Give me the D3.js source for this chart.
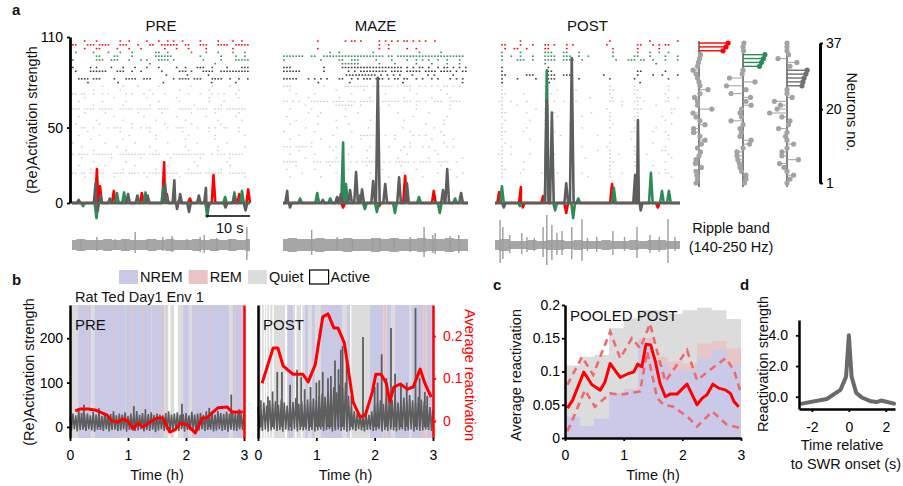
<!DOCTYPE html>
<html>
<head>
<meta charset="utf-8">
<script src="https://cdn.jsdelivr.net/npm/d3@7"></script>
<style>
body { margin: 0; background: #fff; }
svg text { font-family: "Liberation Sans", Arial, sans-serif; }
</style>
</head>
<body>
<svg id="fig" width="903" height="486"></svg>
<script>
// ---------- panel a : example windows (time in s, strength) ----------
const aWindowNames = ["PRE", "MAZE", "POST"];
const aStrengthTicks = [0, 50, 110];

const preRed = [[5.6, 22.5], [6.3, 11], [9.4, 8], [15.7, 6.6], [20.7, 27], [21.3, 6], [26.5, 3], [31.8, 18.5], [37.6, 6], [39.6, 9]];
const preGreen = [[2.5, -2], [5.5, -10], [10.1, 6.6], [11.7, 7], [16.5, 7], [20.5, 10], [21.3, 4], [24.2, 3], [30.4, -9], [34.4, 4], [36.5, 7], [38.2, 8]];
const preGray = [[1.5, 2], [5.3, 13], [5.8, -5], [6.4, 5], [8.5, 3], [12.6, 6], [14.7, 5], [17, 5], [20.9, 13], [23, 15], [23.6, -4], [24.3, 6], [26.3, -6], [28.5, 5], [30.1, 10], [30.6, -3], [34.5, -3], [36.5, 4], [39, -5]];

const mazeRed = [[13, -3], [26.4, 18], [32.6, 8], [20.8, -2]];
const mazeGreen = [[3.7, 3], [7.4, 6.6], [10.2, 3], [13, 40], [13.6, 12.6], [16.6, 5], [17.7, -4], [20.3, -6], [24.2, -6.6], [29.4, 4], [33.9, -6.6], [37.2, 3]];
const mazeGray = [[0.9, 8], [1.5, -3], [8.6, 2], [11.7, 4], [12.5, 6], [14.5, 8.6], [15.8, 20.5], [17.1, 9], [19.5, 14.6], [20.5, 83], [22.1, 12.6], [25.1, 17], [26.8, 13], [34.6, 8.6], [35.5, 22.5], [38.5, 6.6]];

const postRed = [[0.9, 7.3], [5.6, 10.6], [6, -3], [10.4, 4.6], [15.4, -6.6], [25.3, 12.6], [35.2, -3]];
const postGreen = [[1.5, 11], [5.4, -2], [11.2, 88], [13, -5], [16.9, -10], [18, 3], [25.7, 10], [33.7, 20], [36.1, 8], [37.6, 8]];
const postGray = [[1.9, -3], [11.2, 68], [12.3, 60], [15.4, 13], [16.6, 96], [30.3, 18.5], [30.9, 55], [31.5, -5]];

// raster, one string per neuron (37 at top), '#' = spike in that time bin
const preRaster = [
  "....#...#.......#..#.....#...#..#.#..#.....#.....#....#..#..",
  "##...###.####...###...#...##..######..##...###...####..#####",
  "....#...##.....#...#...#.......#...#...#.....#........#.....",
  ".#.....#....#...#...#.......##..#.......#....#...#....#...#.",
  "........##....##....#.......######.........#......#....#..#.",
  "#.......###..###...#...#.#...####.#.........#.....#....#####",
  "..........................#.....................#...........",
  "#.....#.#....#...#...#...#...#.....#..#...###..#....#....###",
  ".#....######...###..#..#......#.....###.#...####..##########",
  "...............................#......#......#.............",
  "..####.###....#...####..###.......#.####.###...####..#..#..#",
  ".....#.........#..............#...............#.......#....",
  "..........#......#....#......#..........#......#.....#......",
  ".......#........#.........#.........#.........#.........#...",
  "##.##..#..#.#.....#.#...#..#...#.......#...#...#.#.#...#....",
  "....#.........#..........#.........#..........#.........#...",
  "..#.......#.......#..........#......#.........#....#........",
  ".......#.........#........#..............#........#.........",
  "###.####.#####..#####.#####..####...#####.####..###.#######.",
  "....#......#..........#.......#.........#.......#.......#...",
  "..#...........#.........#..........#.........#.........#....",
  "........#........#..........#.........#..........#.......#..",
  ".#.......#..........#..........#........#.........#.........",
  "...##..#....#.###...#..#.##.....#..###....#...#.#..##...#...",
  ".....#..........#.........#..........#........#.........#...",
  "..#......#.........#........#..........#........#.........#.",
  "......#..........#..........#.........#.........#...........",
  "#..........#.........#..........#.........#.........#.......",
  "...#...........#..........#...........#..........#........#.",
  ".......#..........#.........#..........#.........#..........",
  "#.####.#######..#########.####..#.###########..#.###.#####..",
  "...#.........#.........#.........#.........#.........#......",
  ".......#..........#...........#..........#..........#.......",
  "..#........#.........#..........#.........#..........#......",
  "......#..........#..........#..........#..........#.........",
  "##.##.#####...####.####.#.#####.####..######.######..######.",
  "....#.........#..........#..........#..........#..........#."
];
const mazeRaster = [
  "...........#........#.##.#.....#.#.#.#.##.#.#.#..#..........",
  "...............................#..#.........................",
  "...........#...................#..#.....#..#................",
  "...............#..#..........#..............#......#........",
  "#######..##..####################.##.######################.",
  "#...........#.....##..###.....#....#....#..#.#.#..#..#...#..",
  "...................######......#....#......#....#....#...#..",
  "###..........#.....####################.#.#.##.#..#.##.#.#.#",
  "######.......#.......#.#.#########.####.#####.####.####.#.##",
  "....................##########.#.#.#.#...#....#.#.....#....",
  "#####...#.#.#.#...##..#.#.###.###.#.##.##..#.#..#.#...#.#.#.",
  "...........#.........#........#.......#..................#.",
  "###..........#......########.#######.#.###..#.#.#.#.##.#.#..",
  "..#..............#........#..............#.........#........",
  "....#.....#...........#..........#.........#.........#......",
  "........#.........#.........#..........#........#.....#.....",
  "##.#.#...######.####.###.#####..######.###.##.#..###..####..",
  ".......#.........######..#........#........#..........#.....",
  "..#......#..........#..........#...........#..........#.....",
  "........#...#...........#............#.........#............",
  ".#.........#........#.........#...........#..........#......",
  "....#............#..........#..........#............#.......",
  "..#........#.........#........#...............#.....#.......",
  ".......#.........#.........#..........#.........#..........",
  "#.........#...........#........#.........#.........#........",
  ".....#..........#........######..#..#.....#.#.#.....#.......",
  "..#.........#............#..........#...........#......#....",
  ".........#.........#..........#..........#..........#.......",
  "###.####.#.....#.#....#.....#.....#....#.#...#.#.....#.#....",
  ".....#..........#..........#..........#..........#..........",
  "..#.......#..........#.........#........#.........#.........",
  ".......#.........#.........#.........#.........#..........#.",
  "#####.....###.#####...#.#.#####..#.#.#####.#.####..####..#...",
  "....#..........#...........#..........#............#........",
  ".#........#..........#..........#..........#..........#.....",
  "......#..........#..........#..........#..........#.......#.",
  "..#.........#..........#..........#..........#..........#..."
];
const postRaster = [
  "........#............................#............#........#",
  "..##....#...#...##.#...#.#..........#.........##...#.#.##...",
  "...#..##..#.....##.....#..............#.......#......#......",
  "..#.....#.......###...##...#..........#.......#...#..#..#...",
  "..#..#..#...#...####..###..#..#.......#......##...#....#...#",
  "..#....###..#...####..####..#..........#...###.##..#...#...#",
  "................#...................................#.......",
  "..#..............#..........................................",
  "..#..............##...........................##.......#....",
  "..##......###....###..###..........#..........#....#..#....#",
  "..#....#.....#...###.......#.........#.......#..........#...",
  "..#..............#............................#............",
  "..#.............##...................#.......#..........#...",
  "..#..............#..#.....#..........##......##.........#...",
  "..##.....#......###..................#.......#.........#....",
  "..#...........................#......#.......##........#..#",
  ".##..#....#.....##.#..#...#..........##..#...##.#......##...",
  "..#....#.........#.......................#....#.....#.......",
  "..#..........#..##..................#........###.........##.",
  "..##......#.....#..#...........#.....#........#..........#..",
  "..#..............#..#.......#........#.......##.......#.....",
  "...#.......#....#....................#.......#.........#....",
  "..#.............##......#.............#.......#..........#..",
  "..#.......#......#..........#........#.......##.....#.......",
  "..##.....#......##.#........................##.....#...#....",
  "..#..............#...#...........#...#........#.........#...",
  "..#........#.....##.........................#.#.........#...",
  "...#.............#.......#...........#........#....#........",
  "..#..#...........#..........#.......#........#.........#....",
  "..#.............##...............#...#.......##.......##....",
  ".##..#.....#....#.##.....#...........#..#....##..#......#...",
  "..#..............#...........#.......#........#..........#..",
  "..#......#......##...................##......#.........#....",
  "..#..............#.......#...........#.......##....#........",
  "..##.....#.......#...................#........#........#....",
  "..#.....#......###..#.......#........#...#...##......#.##...",
  "..#..............#............#......#........#..........#.."
];

// ripple band: baseline amplitude every 2 s, and bursts [t, up, down]
const preRipBase = [5, 6, 5, 5, 6, 5, 6, 5, 5, 6, 5, 6, 5, 5, 6, 5, 6, 5, 6, 5, 6];
const mazeRipBase = [6, 7, 6, 6, 7, 6, 6, 7, 6, 6, 7, 6, 7, 6, 6, 7, 6, 6, 7, 6, 6];
const postRipBase = [5, 6, 4, 4, 5, 4, 5, 5, 4, 5, 4, 4, 5, 4, 4, 5, 4, 5, 5, 4, 4];
const preRipple = [[2, 6, 5], [5.6, 8, 6], [9.7, 6, 5], [12, 6, 6], [14.2, 13, 8], [16.9, 6, 5], [20.4, 8, 6], [22.5, 9, 7], [25.8, 6, 5], [28.8, 8, 7], [29.7, 10, 8], [32.5, 7, 6], [35.5, 6, 5], [39.3, 18, 15]];
const mazeRipple = [[6.2, 15, 10], [11.7, 8, 6], [15, 6, 5], [19.5, 6, 5], [21, 7, 6], [24, 6, 6], [27.5, 8, 7], [30.5, 18, 12], [32.4, 10, 8], [32.9, 12, 9], [36.1, 9, 7], [38, 10, 8]];
const postRipple = [[1.1, 25, 18], [1.7, 18, 14], [3.2, 10, 8], [5.8, 12, 9], [6.9, 8, 7], [8.5, 7, 6], [10.4, 18, 12], [11.2, 30, 20], [12.3, 20, 15], [13.4, 12, 10], [14.5, 14, 10], [16.6, 18, 14], [18.8, 26, 16], [20, 7, 6], [22, 8, 7], [25.5, 14, 10], [28, 8, 6], [30.7, 18, 13], [33.5, 10, 8], [35.5, 8, 7], [37.4, 26, 18], [38.9, 8, 6]];

// assembly weights, neuron 37 -> 1
const neuronTicks = [1, 20, 37];
const redWeights = [0.97, 0.9, 0.8, 0.05, 0.02, -0.02, -0.05, -0.2, -0.1, -0.05, 0, 0.03, 0.3, 0.03, -0.15, -0.05, -0.05, 0.43, -0.2, -0.1, 0.03, 0.2, -0.18, -0.18, 0.03, 0.2, 0.08, -0.05, 0.05, 0, -0.1, -0.12, 0.08, -0.1, -0.07, -0.05, -0.1];
const greenWeights = [0.03, 0, 0.02, 0.73, 0.68, 0.62, 0.55, 0, -0.03, -0.45, 0.4, -0.55, 0.1, -0.4, 0.25, 0.1, 0.27, -0.05, -0.1, -0.05, -0.4, 0, -0.1, -0.05, -0.1, 0.27, 0.22, 0, -0.2, -0.2, -0.17, -0.12, -0.1, -0.05, 0.1, 0.1, 0.05];
const darkWeights = [0, 0, 0, 0.05, -0.3, 0.33, 0.1, 0.67, 0.63, 0.57, 0.53, 0.5, 0, 0, 0.17, -0.42, -0.22, -0.33, -0.58, -0.17, 0.1, 0.05, -0.28, 0, -0.05, 0, 0.22, 0, -0.17, -0.17, 0.38, -0.25, -0.1, 0, 0.22, 0.1, 0];
const redMembers = [37, 36, 35];
const greenMembers = [34, 33, 32, 31];
const darkMembers = [30, 29, 28, 27, 26];

// ---------- panel b : whole sessions (time in h) ----------
const stateNames = [["NREM", "N"], ["REM", "R"], ["Quiet", "Q"], ["Active", "A"]];
const hourTicks = [0, 1, 2, 3];
const strengthTicksB = [0, 100, 200];
const preStates = [[0, 0.14, "Q"], [0.14, 0.37, "N"], [0.37, 0.42, "Q"], [0.42, 1.62, "N"], [1.62, 1.7, "Q"], [1.7, 1.73, "A"], [1.73, 1.8, "Q"], [1.8, 1.86, "A"], [1.86, 1.95, "Q"], [1.95, 2.05, "N"], [2.05, 2.1, "Q"], [2.1, 2.75, "N"], [2.75, 2.8, "Q"], [2.8, 3, "N"],
  [0.3, 0.315, "R"], [0.75, 0.765, "R"], [1.06, 1.08, "R"], [1.26, 1.275, "R"], [1.55, 1.57, "R"], [1.66, 1.675, "R"], [2.15, 2.165, "R"], [2.39, 2.405, "R"], [2.84, 2.86, "R"], [0.95, 0.96, "Q"], [1.4, 1.41, "Q"]];
const postStates = [[0, 0.05, "Q"], [0.05, 0.07, "A"], [0.07, 0.1, "Q"], [0.1, 0.12, "A"], [0.12, 0.14, "Q"], [0.14, 0.16, "A"], [0.16, 0.19, "Q"], [0.19, 0.21, "A"], [0.21, 0.25, "Q"], [0.25, 0.27, "A"], [0.27, 0.47, "Q"], [0.47, 0.5, "A"], [0.5, 0.6, "N"], [0.6, 0.64, "Q"], [0.64, 0.66, "A"], [0.66, 0.74, "Q"], [0.74, 0.76, "A"], [0.76, 0.8, "Q"], [0.8, 0.86, "N"], [0.86, 0.92, "Q"], [0.92, 0.98, "N"], [0.98, 1.08, "Q"], [1.08, 1.45, "N"], [1.45, 1.52, "Q"], [1.52, 1.58, "N"], [1.58, 1.6, "A"], [1.6, 1.92, "Q"], [1.92, 2.15, "N"], [2.15, 2.2, "R"], [2.2, 2.29, "N"], [2.29, 2.35, "Q"], [2.35, 2.6, "N"], [2.6, 2.64, "Q"], [2.64, 2.83, "N"], [2.83, 2.89, "R"], [2.89, 3, "N"]];

// activation envelope every 0.05 h
const preHi = [22, 30, 26, 38, 32, 28, 30, 26, 34, 28, 30, 25, 32, 27, 29, 35, 26, 30, 28, 33, 25, 30, 28, 36, 27, 31, 26, 29, 33, 27, 30, 28, 26, 31, 35, 28, 30, 33, 27, 29, 31, 26, 34, 28, 30, 32, 27, 35, 30, 33, 28, 36, 31, 29, 34, 30, 37, 32, 35, 30, 33];
const preLo = [-8, -5, -10, -7, -6, -9, -5, -8, -11, -6, -7, -9, -5, -10, -7, -6, -9, -8, -5, -11, -7, -6, -9, -8, -5, -10, -7, -9, -6, -12, -8, -5, -9, -7, -10, -6, -8, -9, -5, -11, -7, -8, -6, -10, -8, -5, -9, -7, -6, -10, -8, -5, -9, -7, -11, -6, -8, -9, -5, -7, -8];
const preSpikes = [[0.24, 50], [0.5, 42], [1.1, 47], [1.3, 40], [1.93, 52], [2.4, 43], [2.78, 73], [2.92, 40]];
const postHi = [45, 40, 55, 48, 60, 52, 58, 50, 62, 55, 48, 60, 56, 65, 52, 58, 50, 62, 57, 64, 60, 70, 75, 68, 80, 85, 90, 78, 95, 88, 100, 70, 45, 35, 30, 28, 32, 30, 27, 35, 48, 55, 60, 52, 65, 58, 62, 70, 55, 60, 66, 58, 72, 60, 55, 68, 62, 58, 50, 45, 40];
const postLo = [-7, -9, -6, -10, -8, -5, -9, -7, -11, -6, -8, -9, -5, -10, -7, -8, -6, -9, -7, -10, -8, -6, -9, -7, -5, -10, -8, -6, -9, -7, -11, -8, -6, -9, -5, -8, -10, -7, -6, -9, -8, -5, -10, -7, -9, -6, -8, -10, -7, -5, -9, -8, -6, -10, -7, -9, -8, -6, -7, -9, -8];
const postSpikes = [[0.05, 60], [0.17, 68], [0.25, 80], [0.33, 124], [0.41, 124], [0.55, 95], [0.67, 129], [0.74, 113], [0.8, 85], [0.9, 90], [1.0, 100], [1.05, 105], [1.11, 124], [1.2, 110], [1.25, 115], [1.32, 150], [1.38, 130], [1.42, 174], [1.45, 183], [1.52, 147], [1.6, 70], [1.8, 203], [2.0, 90], [2.05, 100], [2.12, 164], [2.2, 110], [2.28, 223], [2.35, 120], [2.45, 95], [2.55, 100], [2.7, 268], [2.77, 110], [2.86, 79], [2.9, 70]];

const avgTicks = [0, 0.1, 0.2];
const preMean = [[0.09, 0.024], [0.17, 0.028], [0.31, 0.028], [0.43, 0.026], [0.52, 0.021], [0.64, 0.014], [0.72, 0], [0.83, -0.002], [0.91, 0.005], [1.0, 0], [1.09, -0.019], [1.17, -0.005], [1.26, -0.014], [1.38, -0.002], [1.5, 0.007], [1.6, 0.007], [1.72, -0.026], [1.81, -0.021], [1.9, -0.005], [2.02, -0.009], [2.16, -0.028], [2.28, 0.007], [2.36, 0.007], [2.45, 0.019], [2.55, 0.031], [2.71, 0.033], [2.79, 0.021], [2.98, 0.021]];
const postMean = [[0.07, 0.089], [0.26, 0.172], [0.34, 0.172], [0.43, 0.13], [0.6, 0.11], [0.77, 0.11], [0.86, 0.092], [0.98, 0.132], [1.11, 0.245], [1.2, 0.252], [1.3, 0.219], [1.37, 0.219], [1.48, 0.184], [1.63, 0.045], [1.75, 0.009], [1.84, 0.014], [1.96, 0.068], [2.02, 0.11], [2.11, 0.11], [2.2, 0.089], [2.26, 0.045], [2.33, 0.08], [2.44, 0.087], [2.56, 0.075], [2.66, 0.08], [2.78, 0.122], [2.86, 0.089], [2.97, 0.056]];

// ---------- panel c : pooled POST ----------
const binStarts = [0, 0.25, 0.5, 0.75, 1, 1.25, 1.5, 1.75, 2, 2.25, 2.5, 2.75];
const quietTop = [0.109, 0.122, 0.125, 0.165, 0.18, 0.192, 0.192, 0.187, 0.192, 0.196, 0.192, 0.179];
const remTop = [0.032, 0.018, 0.029, 0.068, 0.074, 0.15, 0.122, 0.115, 0.112, 0.142, 0.146, 0.135];
const nremTop = [0.032, 0.018, 0.029, 0.066, 0.072, 0.146, 0.112, 0.101, 0.102, 0.12, 0.133, 0.111];
const pooledTicks = [0, 0.05, 0.1, 0.15, 0.2];
const pooledMean = [[0.04, 0.045], [0.13, 0.057], [0.32, 0.099], [0.46, 0.08], [0.6, 0.072], [0.68, 0.084], [0.77, 0.112], [0.94, 0.091], [1.08, 0.097], [1.17, 0.099], [1.24, 0.111], [1.31, 0.107], [1.38, 0.141], [1.46, 0.14], [1.54, 0.115], [1.62, 0.082], [1.71, 0.062], [1.79, 0.066], [1.91, 0.066], [2.08, 0.081], [2.25, 0.05], [2.34, 0.06], [2.42, 0.065], [2.52, 0.081], [2.62, 0.075], [2.74, 0.072], [2.82, 0.067], [2.88, 0.055], [2.96, 0.047]];
const pooledUpper = [[0.04, 0.08], [0.29, 0.122], [0.48, 0.095], [0.77, 0.16], [0.94, 0.12], [1.14, 0.15], [1.28, 0.135], [1.45, 0.172], [1.57, 0.13], [1.71, 0.085], [2.08, 0.132], [2.25, 0.087], [2.51, 0.105], [2.74, 0.12], [2.88, 0.102], [2.99, 0.07]];
const pooledLower = [[0.04, 0.01], [0.14, 0.03], [0.34, 0.072], [0.51, 0.047], [0.77, 0.067], [0.94, 0.065], [1.28, 0.07], [1.4, 0.13], [1.57, 0.06], [1.68, 0.05], [1.85, 0.047], [2.11, 0.03], [2.25, 0.017], [2.51, 0.04], [2.76, 0.02], [2.99, 0.015]];

// ---------- panel d : SWR-triggered ----------
const swrTime = [-2.55, -1.2, -0.45, -0.15, 0, 0.15, 0.4, 0.7, 1.2, 1.5, 1.75, 2.45];
const swrStrength = [-0.45, -0.15, 0.45, 1.3, 4.0, 1.3, 0.25, -0.05, -0.3, -0.35, -0.25, -0.45];
const swrTicks = [-2, 0, 2];
const swrStrengthTicks = [0, 2, 4];

// ======================================================================
const FONT = '"Liberation Sans", Arial, sans-serif';
const RED = "#ff0000", GREEN = "#2e8b57", TRACE_GRAY = "#5e5e5e";
const stateColor = {N: "#c9c9e6", R: "#e9c4c4", Q: "#dcdcdc", A: "#ffffff"};
const svg = d3.select("#fig");
const plain = d => String(d);

function label(x, y, s, size = 14.5, opts = {}) {
    const t = svg.append("text")
        .attr("x", x).attr("y", y)
        .attr("font-size", size)
        .attr("fill", opts.fill || "#111")
        .attr("text-anchor", opts.anchor || "start")
        .attr("font-weight", opts.bold ? "bold" : null)
        .text(s);
    if (opts.rotate) t.attr("transform", `rotate(${opts.rotate},${x},${y})`);
    return t;
}

function styleAxis(g, color = "#000", width = 2.5) {
    g.attr("font-size", 14).attr("font-family", FONT);
    g.select(".domain").attr("stroke", color).attr("stroke-width", width);
    g.selectAll(".tick line").attr("stroke", color).attr("stroke-width", 1.8);
    g.selectAll(".tick text").attr("fill", color);
}

// peaks -> line points along a 0 baseline
function peakPoints(events, tMax) {
    const pts = [[0, 0], [tMax, 0]];
    events.forEach(([t, v]) => {
        pts.push([t - 0.4, 0], [t, v], [t + 0.4, 0]);
    });
    return pts.filter(p => p[0] >= 0 && p[0] <= tMax).sort((a, b) => a[0] - b[0]);
}

// ---------------------------- panel a ----------------------------
label(12, 15, "a", 15, {bold: true});
const yA = d3.scaleLinear().domain([0, 110]).range([203, 37]);
const rowY = d3.scaleLinear().domain([37, 1]).range([41, 177]);
const yRip = d3.scaleLinear().domain([-20, 20]).range([265, 225]);
const aData = [
    {red: preRed, green: preGreen, gray: preGray, raster: preRaster, ripBase: preRipBase, ripple: preRipple, range: [72, 250]},
    {red: mazeRed, green: mazeGreen, gray: mazeGray, raster: mazeRaster, ripBase: mazeRipBase, ripple: mazeRipple, range: [283, 468]},
    {red: postRed, green: postGreen, gray: postGray, raster: postRaster, ripBase: postRipBase, ripple: postRipple, range: [495, 680]}
];
const rowColor = r => r < 3 ? RED : r < 7 ? GREEN : r < 12 ? "#3c3c3c" : "#cdcdcd";

aData.forEach((w, k) => {
    const x = d3.scaleLinear().domain([0, 40]).range(w.range);
    const g = svg.append("g");
    label((w.range[0] + w.range[1]) / 2, 31, aWindowNames[k], 15, {anchor: "middle"});

    // raster
    const spikes = [];
    w.raster.forEach((row, r) => {
        const bw = 40 / row.length;
        row.split("").forEach((c, i) => {
            if (c === "#") spikes.push({t: i * bw, bw, r});
        });
    });
    g.selectAll("rect.spk").data(spikes).join("rect")
        .attr("class", "spk")
        .attr("x", d => x(d.t))
        .attr("y", d => rowY(37 - d.r) - 0.7)
        .attr("width", d => (x(d.bw) - x(0)) * 0.55)
        .attr("height", d => d.r < 12 ? 1.5 : 1.3)
        .attr("fill", d => rowColor(d.r));

    // activation traces
    const line = d3.line().x(d => x(d[0])).y(d => yA(d[1]));
    [[w.red, RED], [w.green, GREEN], [w.gray, TRACE_GRAY]].forEach(([ev, col]) => {
        g.append("path")
            .attr("d", line(peakPoints(ev, 40)))
            .attr("fill", "none").attr("stroke", col)
            .attr("stroke-width", 2.6).attr("stroke-linejoin", "round");
    });

    // ripple band
    const step = 40 / (w.ripBase.length - 1);
    g.append("path")
        .attr("d", d3.area().curve(d3.curveStep)
            .x((d, i) => x(i * step)).y0(d => yRip(-d)).y1(d => yRip(d))(w.ripBase))
        .attr("fill", "#a6a6a6");
    g.selectAll("line.rip").data(w.ripple).join("line")
        .attr("class", "rip")
        .attr("x1", d => x(d[0])).attr("x2", d => x(d[0]))
        .attr("y1", d => yRip(-d[2])).attr("y2", d => yRip(d[1]))
        .attr("stroke", "#9c9c9c").attr("stroke-width", 1.4);

    if (k === 0) {
        svg.append("line")
            .attr("x1", x(30)).attr("x2", x(40)).attr("y1", 216).attr("y2", 216)
            .attr("stroke", "#000").attr("stroke-width", 1.5);
        label((x(30) + x(40)) / 2 + 2, 233, "10 s", 14.5, {anchor: "middle"});
    }
});

const aAxis = svg.append("g").attr("transform", "translate(70,0)")
    .call(d3.axisLeft(yA).tickValues(aStrengthTicks).tickSize(3).tickSizeOuter(0).tickPadding(4));
styleAxis(aAxis, "#000", 2.8);
label(37, 120, "(Re)Activation strength", 14.5, {anchor: "middle", rotate: -90});
label(731, 233, "Ripple band", 14.5, {anchor: "middle"});
label(731, 252, "(140-250 Hz)", 14.5, {anchor: "middle"});

// assembly weight stems
const stemY = d3.scaleLinear().domain([37, 1]).range([43, 183]);
const stemX = d3.scaleLinear().domain([-1, 1]).range([-30, 30]);
[[699, redWeights, redMembers, RED], [743, greenWeights, greenMembers, GREEN], [787, darkWeights, darkMembers, "#707070"]]
    .forEach(([x0, weights, members, col]) => {
        const g = svg.append("g").attr("transform", `translate(${x0},0)`);
        const d = weights.map((w, i) => ({n: 37 - i, w, m: members.includes(37 - i)}));
        g.append("line").attr("x1", 0).attr("x2", 0).attr("y1", 41).attr("y2", 187)
            .attr("stroke", "#000").attr("stroke-width", 1);
        g.selectAll("line.stem").data(d).join("line").attr("class", "stem")
            .attr("x1", 0).attr("x2", e => stemX(e.w))
            .attr("y1", e => stemY(e.n)).attr("y2", e => stemY(e.n))
            .attr("stroke", e => e.m ? col : "#a8a8a8").attr("stroke-width", e => e.m ? 1.4 : 1.1);
        g.selectAll("circle").data(d).join("circle")
            .attr("cx", e => stemX(e.w)).attr("cy", e => stemY(e.n)).attr("r", 2.6)
            .attr("fill", e => e.m ? col : "#a3a3a3");
    });
const nAxis = svg.append("g").attr("transform", "translate(820,0)")
    .call(d3.axisRight(stemY).tickValues(neuronTicks).tickSize(3).tickSizeOuter(0).tickPadding(3));
styleAxis(nAxis, "#000", 3);
label(847, 112, "Neurons no.", 14.5, {anchor: "middle", rotate: 90});

// ---------------------------- panel b ----------------------------
label(12, 285, "b", 15, {bold: true});
let lx = 119;
stateNames.forEach(([name, code]) => {
    svg.append("rect").attr("x", lx).attr("y", 270).attr("width", 19).attr("height", 14)
        .attr("fill", stateColor[code])
        .attr("stroke", code === "A" ? "#000" : "none").attr("stroke-width", 1.2);
    const t = label(lx + 21, 282, name, 14.5);
    lx += 21 + t.node().getComputedTextLength() + 6;
});
label(75, 302, "Rat Ted Day1 Env 1", 14.5);

const yB = d3.scaleLinear().domain([-25, 275]).range([438, 305]);
const yR = d3.scaleLinear().domain([-0.04, 0.273]).range([438, 305]);
const bData = [
    {name: "PRE", range: [70, 244], states: preStates, hi: preHi, lo: preLo, spikes: preSpikes, mean: preMean},
    {name: "POST", range: [258, 433], states: postStates, hi: postHi, lo: postLo, spikes: postSpikes, mean: postMean}
];
bData.forEach((p, k) => {
    const x = d3.scaleLinear().domain([0, 3]).range(p.range);
    const g = svg.append("g");
    g.selectAll("rect").data(p.states).join("rect")
        .attr("x", d => x(d[0])).attr("width", d => x(d[1]) - x(d[0]))
        .attr("y", yB.range()[1]).attr("height", yB.range()[0] - yB.range()[1])
        .attr("fill", d => stateColor[d[2]]);

    const step = 3 / (p.hi.length - 1);
    const pts = [];
    p.hi.forEach((v, i) => {
        pts.push([i * step, v]);
        if (i < p.hi.length - 1) pts.push([i * step + step / 2, p.lo[i]]);
    });
    g.append("path")
        .attr("d", d3.line().x(d => x(d[0])).y(d => yB(d[1]))(pts))
        .attr("fill", "none").attr("stroke", TRACE_GRAY).attr("stroke-width", 1.6);
    g.selectAll("line.spk").data(p.spikes).join("line").attr("class", "spk")
        .attr("x1", d => x(d[0])).attr("x2", d => x(d[0]))
        .attr("y1", yB(0)).attr("y2", d => yB(d[1]))
        .attr("stroke", TRACE_GRAY).attr("stroke-width", 1.8);
    g.append("path")
        .attr("d", d3.line().x(d => x(d[0])).y(d => yR(d[1]))(p.mean))
        .attr("fill", "none").attr("stroke", RED).attr("stroke-width", 3).attr("stroke-linejoin", "round");

    label(p.range[0] + 5, 330, p.name, 15);

    const left = svg.append("g").attr("transform", `translate(${p.range[0]},0)`)
        .call(d3.axisLeft(yB).tickValues(k === 0 ? strengthTicksB : []).tickSize(3).tickSizeOuter(0).tickPadding(4));
    styleAxis(left, "#000", 2.5);
    const right = svg.append("g").attr("transform", `translate(${p.range[1]},0)`)
        .call(d3.axisRight(yR).tickValues(k === 1 ? avgTicks : []).tickSize(3).tickSizeOuter(0).tickPadding(7)
            .tickFormat(plain));
    styleAxis(right, RED, 2.5);
    const bottom = svg.append("g").attr("transform", "translate(0,438)")
        .call(d3.axisBottom(x).tickValues(hourTicks).tickSize(3).tickSizeOuter(0).tickPadding(9).tickFormat(plain));
    styleAxis(bottom, "#000", 0);
    bottom.select(".domain").remove();
    label((p.range[0] + p.range[1]) / 2, 480, "Time (h)", 14.5, {anchor: "middle"});
});
label(34, 372, "(Re)Activation strength", 14.5, {anchor: "middle", rotate: -90});
label(465, 375, "Average reactivation", 14.5, {anchor: "middle", rotate: 90, fill: RED});

// ---------------------------- panel c ----------------------------
label(493, 290, "c", 15, {bold: true});
const xC = d3.scaleLinear().domain([0, 3]).range([565, 741]);
const yC = d3.scaleLinear().domain([0, 0.2]).range([438, 305]);
[[quietTop, stateColor.Q], [remTop, "#e8c6c8"], [nremTop, "#cacae8"]].forEach(([top, col]) => {
    const d = top.map((v, i) => [binStarts[i], v]);
    d.push([3, top[top.length - 1]]);
    svg.append("path")
        .attr("d", d3.area().curve(d3.curveStepAfter).x(e => xC(e[0])).y0(yC(0)).y1(e => yC(e[1]))(d))
        .attr("fill", col);
});
const lineC = d3.line().x(d => xC(d[0])).y(d => yC(d[1]));
[pooledUpper, pooledLower].forEach(ci => {
    svg.append("path").attr("d", lineC(ci))
        .attr("fill", "none").attr("stroke", "#f06a6a").attr("stroke-width", 2.6)
        .attr("stroke-dasharray", "7,5");
});
svg.append("path").attr("d", lineC(pooledMean))
    .attr("fill", "none").attr("stroke", RED).attr("stroke-width", 3).attr("stroke-linejoin", "round");
label(570, 321, "POOLED POST", 15);
const cLeft = svg.append("g").attr("transform", "translate(565,0)")
    .call(d3.axisLeft(yC).tickValues(pooledTicks).tickSize(3).tickSizeOuter(0).tickPadding(2).tickFormat(plain));
styleAxis(cLeft, "#000", 2.5);
const cBottom = svg.append("g").attr("transform", "translate(0,438)")
    .call(d3.axisBottom(xC).tickValues(hourTicks).tickSize(3).tickSizeOuter(0).tickPadding(9).tickFormat(plain));
styleAxis(cBottom, "#000", 2.5);
label(653, 480, "Time (h)", 14.5, {anchor: "middle"});
label(521, 375, "Average reactivation", 14.5, {anchor: "middle", rotate: -90});

// ---------------------------- panel d ----------------------------
label(740, 290, "d", 15, {bold: true});
const xD = d3.scaleLinear().domain([-2.7, 2.5]).range([799, 895]);
const yD = d3.scaleLinear().domain([-0.8, 5]).range([409, 320]);
svg.append("path")
    .attr("d", d3.line().x((d, i) => xD(swrTime[i])).y(d => yD(d))(swrStrength))
    .attr("fill", "none").attr("stroke", "#6a6a6a").attr("stroke-width", 4)
    .attr("stroke-linejoin", "round").attr("stroke-linecap", "round");
const dLeft = svg.append("g").attr("transform", "translate(799,0)")
    .call(d3.axisLeft(yD).tickValues(swrStrengthTicks).tickSize(3).tickSizeOuter(0).tickPadding(8));
styleAxis(dLeft, "#000", 2.5);
const dBottom = svg.append("g").attr("transform", "translate(0,409)")
    .call(d3.axisBottom(xD).tickValues(swrTicks).tickSize(3).tickSizeOuter(0).tickPadding(10).tickFormat(plain));
styleAxis(dBottom, "#000", 2.5);
label(768, 364, "Reactivation strength", 14.5, {anchor: "middle", rotate: -90});
label(842, 450, "Time relative", 14.5, {anchor: "middle"});
label(846, 469, "to SWR onset (s)", 14.5, {anchor: "middle"});
</script>
</body>
</html>
